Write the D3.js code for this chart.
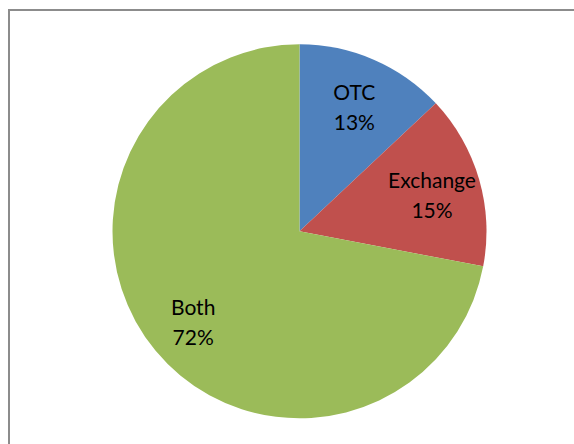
<!DOCTYPE html>
<html><head><meta charset="utf-8">
<script src="https://cdn.jsdelivr.net/npm/d3@7"></script>
<style>html,body{margin:0;padding:0;background:#fff;}svg{display:block;}</style>
</head><body>
<script>
const categories = ["OTC", "Exchange", "Both"];
const values = [13, 15, 72];
const colors = ["#4F81BD", "#C0504D", "#9BBB59"];

const W = 574, H = 444;
const svg = d3.select("body").append("svg").attr("width", W).attr("height", H);
svg.append("rect").attr("x", 9).attr("y", 10).attr("width", 600).attr("height", 500)
  .attr("fill", "#fff").attr("stroke", "#8c8c8c").attr("stroke-width", 2);

const cx = 299.5, cy = 231.3, R = 187;
const pie = d3.pie().sort(null).value(d => d.v);
const data = pie(categories.map((c, i) => ({c, v: values[i], col: colors[i]})));
const arc = d3.arc().innerRadius(0).outerRadius(R);
const labelArc = d3.arc().innerRadius(138).outerRadius(138);
const g = svg.append("g").attr("transform", `translate(${cx},${cy})`);
g.selectAll("path").data(data).join("path").attr("d", arc).attr("fill", d => d.data.col);

const lab = g.selectAll("text.l").data(data).join("text").attr("class", "l")
  .attr("transform", d => { const [x, y] = labelArc.centroid(d); return `translate(${x},${y + 3})`; })
  .attr("text-anchor", "middle").attr("font-family", "Lato, 'Open Sans', sans-serif")
  .attr("font-size", 21).attr("fill", "#000");
lab.append("tspan").attr("x", 0).attr("y", -7.5).text(d => d.data.c);
lab.append("tspan").attr("x", 0).attr("y", 22.5).text(d => d.data.v + "%");
</script>
</body></html>
